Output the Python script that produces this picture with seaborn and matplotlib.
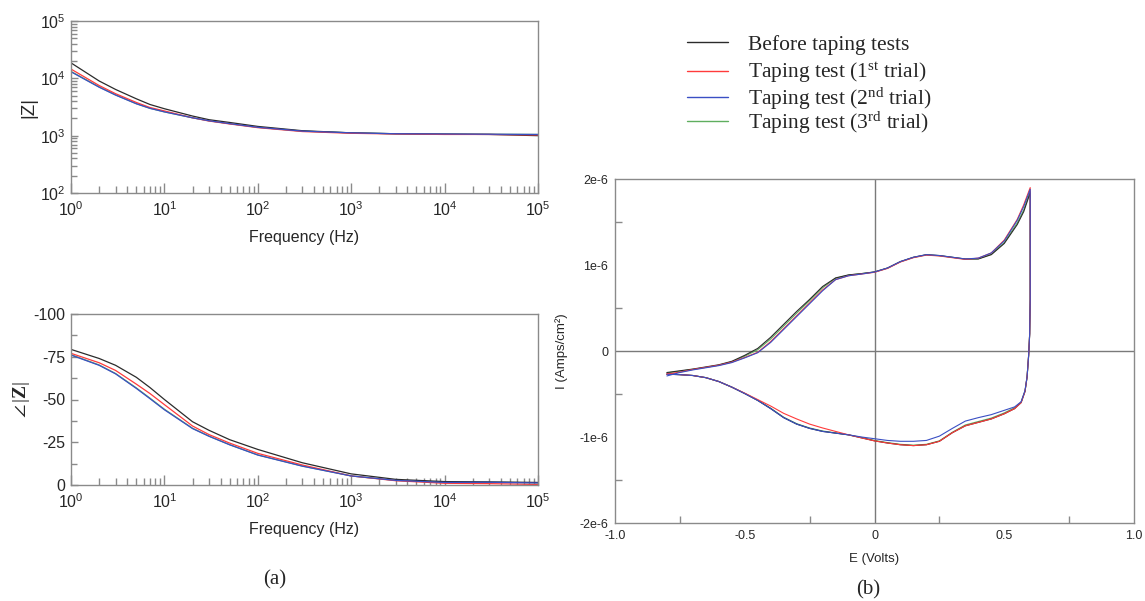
import numpy as np
import pandas as pd
import seaborn as sns
import matplotlib
matplotlib.use("Agg")
import matplotlib.pyplot as plt
from matplotlib.lines import Line2D
from matplotlib.ticker import FixedLocator, NullFormatter, LogLocator

# ---------------- data ----------------
series = ["Before taping tests", "Taping test (1st trial)", "Taping test (2nd trial)", "Taping test (3rd trial)"]
legend_labels = ["Before taping tests",
                 "Taping test (1$^{\\mathrm{st}}$ trial)",
                 "Taping test (2$^{\\mathrm{nd}}$ trial)",
                 "Taping test (3$^{\\mathrm{rd}}$ trial)"]

freq = [1, 2, 3, 5, 7, 10, 20, 30, 50, 100, 300, 1000, 3000, 1e4, 3e4, 1e5]

z_before = [1.86e4, 9.0e3, 6.4e3, 4.4e3, 3.5e3, 2.95e3, 2.2e3, 1.9e3, 1.7e3, 1.45e3, 1.22e3, 1.12e3, 1.08e3, 1.06e3, 1.05e3, 1.00e3]
z_t1 = [1.45e4, 7.5e3, 5.4e3, 3.8e3, 3.1e3, 2.7e3, 2.05e3, 1.8e3, 1.6e3, 1.38e3, 1.18e3, 1.10e3, 1.07e3, 1.05e3, 1.05e3, 1.03e3]
z_t2 = [1.30e4, 7.0e3, 5.1e3, 3.6e3, 3.0e3, 2.6e3, 2.05e3, 1.82e3, 1.62e3, 1.40e3, 1.20e3, 1.12e3, 1.08e3, 1.07e3, 1.06e3, 1.05e3]
z_t3 = [1.32e4, 7.1e3, 5.15e3, 3.62e3, 3.0e3, 2.6e3, 2.05e3, 1.82e3, 1.62e3, 1.40e3, 1.20e3, 1.12e3, 1.08e3, 1.07e3, 1.06e3, 1.05e3]

ph_before = [-79.3, -74, -70, -63, -57, -50, -37, -32, -26.5, -20.8, -13, -6.5, -3.3, -2.0, -1.8, -1.5]
ph_t1 = [-77, -71.5, -67, -59, -53.5, -47, -34.5, -29.5, -24.5, -18.5, -11.7, -5.3, -2.5, -1.0, -0.8, -0.3]
ph_t2 = [-76, -70, -65, -56.5, -50.5, -44, -33, -28.5, -23.5, -17.5, -11, -5.3, -2.7, -1.5, -1.6, -1.2]
ph_t3 = [-76.2, -70.2, -65.2, -56.8, -50.8, -44.3, -33.2, -28.6, -23.6, -17.6, -11.1, -5.3, -2.7, -1.6, -1.6, -1.3]

e_up = [-0.8, -0.75, -0.7, -0.65, -0.6, -0.55, -0.5, -0.45, -0.4, -0.35, -0.3, -0.25, -0.2, -0.15, -0.1,
        -0.05, 0, 0.05, 0.1, 0.15, 0.2, 0.25, 0.3, 0.35, 0.4, 0.45, 0.5, 0.55, 0.575, 0.6]
e_down = [0.6, 0.598, 0.594, 0.588, 0.58, 0.565, 0.54, 0.5, 0.45, 0.4, 0.35, 0.3, 0.25, 0.2, 0.15, 0.1, 0.05, 0,
          -0.05, -0.1, -0.15, -0.2, -0.25, -0.3, -0.35, -0.4, -0.45, -0.5, -0.55, -0.6, -0.65, -0.7, -0.75, -0.8]

# current in 1e-6 A/cm2
i_up_before = [-0.25, -0.23, -0.21, -0.185, -0.16, -0.12, -0.05, 0.03, 0.16, 0.31, 0.46, 0.6, 0.75, 0.85, 0.885,
               0.9, 0.92, 0.965, 1.04, 1.09, 1.12, 1.11, 1.09, 1.07, 1.07, 1.12, 1.25, 1.47, 1.62, 1.84]
i_up_t1 = [-0.27, -0.245, -0.215, -0.19, -0.165, -0.13, -0.075, -0.015, 0.11, 0.26, 0.41, 0.56, 0.71, 0.83, 0.875,
           0.895, 0.915, 0.96, 1.035, 1.085, 1.115, 1.105, 1.085, 1.065, 1.08, 1.14, 1.29, 1.53, 1.70, 1.90]
i_up_t2 = [-0.29, -0.25, -0.22, -0.195, -0.17, -0.135, -0.08, -0.02, 0.10, 0.25, 0.40, 0.55, 0.70, 0.83, 0.875,
           0.895, 0.918, 0.965, 1.04, 1.09, 1.12, 1.11, 1.09, 1.07, 1.08, 1.14, 1.28, 1.52, 1.68, 1.88]
i_up_t3 = [-0.255, -0.235, -0.213, -0.19, -0.165, -0.125, -0.06, 0.015, 0.14, 0.29, 0.44, 0.585, 0.735, 0.845, 0.883,
           0.9, 0.918, 0.963, 1.038, 1.088, 1.118, 1.108, 1.088, 1.068, 1.072, 1.125, 1.26, 1.49, 1.64, 1.86]

i_down_before = [0.6, 0.2, -0.05, -0.3, -0.47, -0.6, -0.67, -0.73, -0.79, -0.83, -0.87, -0.95, -1.05, -1.09, -1.10,
                 -1.09, -1.07, -1.045, -1.01, -0.975, -0.955, -0.935, -0.9, -0.85, -0.775, -0.67, -0.575, -0.495,
                 -0.42, -0.355, -0.31, -0.285, -0.275, -0.27]
i_down_t1 = [0.6, 0.2, -0.05, -0.3, -0.47, -0.6, -0.67, -0.73, -0.79, -0.83, -0.87, -0.95, -1.05, -1.09, -1.10,
             -1.09, -1.07, -1.045, -1.01, -0.975, -0.935, -0.895, -0.85, -0.79, -0.725, -0.64, -0.565, -0.49,
             -0.42, -0.355, -0.31, -0.285, -0.275, -0.265]
i_down_t2 = [0.6, 0.2, -0.05, -0.3, -0.46, -0.59, -0.65, -0.69, -0.74, -0.775, -0.815, -0.9, -0.99, -1.04, -1.05,
             -1.05, -1.04, -1.02, -1.0, -0.975, -0.955, -0.935, -0.9, -0.85, -0.775, -0.67, -0.575, -0.495,
             -0.42, -0.355, -0.31, -0.285, -0.275, -0.27]
i_down_t3 = [0.6, 0.2, -0.05, -0.3, -0.465, -0.595, -0.66, -0.72, -0.78, -0.82, -0.86, -0.945, -1.045, -1.085, -1.095,
             -1.085, -1.065, -1.04, -1.005, -0.975, -0.952, -0.93, -0.895, -0.845, -0.77, -0.665, -0.572, -0.493,
             -0.42, -0.355, -0.31, -0.285, -0.275, -0.27]

x_ticks_cv = [-1.0, -0.5, 0, 0.5, 1.0]
x_ticklabels_cv = ["-1.0", "-0.5", "0", "0.5", "1.0"]
y_ticks_cv = [-2e-6, -1e-6, 0, 1e-6, 2e-6]
y_ticklabels_cv = ["-2e-6", "-1e-6", "0", "1e-6", "2e-6"]
phase_ticks = [-100, -75, -50, -25, 0]

colors = ["#2b2b2b", "#ff3b3b", "#3a4fc4", "#5fae5f"]
palette = dict(zip(series, colors))
draw_order = [series[3], series[0], series[1], series[2]]

# ---------------- tables ----------------
eis = pd.concat([
    pd.DataFrame({"f": freq, "Z": z, "phase": p, "s": name})
    for name, z, p in zip(series, [z_before, z_t1, z_t2, z_t3], [ph_before, ph_t1, ph_t2, ph_t3])
], ignore_index=True)

cv_rows = []
for name, iu, idn in zip(series, [i_up_before, i_up_t1, i_up_t2, i_up_t3],
                         [i_down_before, i_down_t1, i_down_t2, i_down_t3]):
    e = list(e_up) + list(e_down)
    i = [v * 1e-6 for v in list(iu) + list(idn)]
    cv_rows.append(pd.DataFrame({"E": e, "I": i, "s": name}))
cv = pd.concat(cv_rows, ignore_index=True)

# ---------------- style ----------------
sns.set_theme(style="white")
plt.rcParams["font.family"] = ["Liberation Sans", "DejaVu Sans"]
plt.rcParams["axes.unicode_minus"] = False
plt.rcParams["mathtext.fontset"] = "custom"
plt.rcParams["mathtext.rm"] = "Liberation Serif"
plt.rcParams["mathtext.it"] = "Liberation Serif:italic"
plt.rcParams["mathtext.bf"] = "Liberation Serif:bold"
spine_c = "#8a8a8a"

W, H = 1145, 601
fig = plt.figure(figsize=(W / 100, H / 100), dpi=100)
ax1 = fig.add_axes([71 / W, 1 - 193 / H, 467 / W, 172 / H])
ax2 = fig.add_axes([71 / W, 1 - 485 / H, 467 / W, 171 / H])
ax3 = fig.add_axes([615 / W, 1 - 523 / H, 519 / W, 344 / H])


def style_axes(ax):
    for sp in ax.spines.values():
        sp.set_color(spine_c)
        sp.set_linewidth(1.0)
    ax.tick_params(which="both", direction="in", color=spine_c, top=False, right=False,
                   bottom=True, left=True)


for name in draw_order:
    d = eis[eis.s == name]
    sns.lineplot(data=d, x="f", y="Z", color=palette[name], lw=0.9, ax=ax1, legend=False, sort=False, estimator=None)
    sns.lineplot(data=d, x="f", y="phase", color=palette[name], lw=0.9, ax=ax2, legend=False, sort=False, estimator=None)
    c = cv[cv.s == name]
    sns.lineplot(data=c, x="E", y="I", color=palette[name], lw=0.8, ax=ax3, legend=False, sort=False, estimator=None)

for ax in (ax1, ax2):
    style_axes(ax)
    ax.set_xscale("log")
    ax.set_xlim(1, 1e5)
    ax.xaxis.set_major_locator(LogLocator(base=10, numticks=10))
    ax.xaxis.set_minor_locator(LogLocator(base=10, subs=np.arange(2, 10), numticks=20))
    ax.xaxis.set_minor_formatter(NullFormatter())
    ax.tick_params(axis="x", which="major", length=7, width=1, labelsize=11.5, pad=5)
    ax.tick_params(axis="x", which="minor", length=5, width=1)
    ax.tick_params(axis="y", which="major", length=5, width=1, labelsize=11.5, pad=4)
    ax.tick_params(axis="y", which="minor", length=4, width=1)
    ax.set_xlabel("Frequency (Hz)", fontsize=11.5, labelpad=8)

ax1.set_yscale("log")
ax1.set_ylim(1e2, 1e5)
ax1.yaxis.set_minor_locator(LogLocator(base=10, subs=np.arange(2, 10), numticks=20))
ax1.yaxis.set_minor_formatter(NullFormatter())
ax1.set_ylabel("|Z|", fontsize=13.5, labelpad=2)

ax2.set_ylim(0, -100)
ax2.set_yticks(phase_ticks)
ax2.set_yticklabels([str(t) for t in phase_ticks])
ax2.yaxis.set_minor_locator(FixedLocator([-87.5, -62.5, -37.5, -12.5]))
ax2.set_ylabel(r"$\angle\,|\mathbf{Z}|$", fontsize=14, labelpad=1)

# right: CV
style_axes(ax3)
ax3.axhline(0, color="#7a7a7a", lw=1.0, zorder=0)
ax3.axvline(0, color="#7a7a7a", lw=1.0, zorder=0)
ax3.set_xlim(-1.0, 1.0)
ax3.set_ylim(-2e-6, 2e-6)
ax3.set_xticks(x_ticks_cv)
ax3.set_xticklabels(x_ticklabels_cv)
ax3.set_yticks(y_ticks_cv)
ax3.set_yticklabels(y_ticklabels_cv)
ax3.xaxis.set_minor_locator(FixedLocator([-0.75, -0.25, 0.25, 0.75]))
ax3.yaxis.set_minor_locator(FixedLocator([-1.5e-6, -0.5e-6, 0.5e-6, 1.5e-6]))
ax3.tick_params(which="major", length=0, labelsize=9, pad=5)
ax3.tick_params(which="minor", length=5)
ax3.set_xlabel("E (Volts)", fontsize=9.5, labelpad=8)
ax3.set_ylabel("I (Amps/cm²)", fontsize=9.5, labelpad=8)

# legend: one entry per row, placed at the reference row positions
row_y = [45, 73, 99, 123]
for c, lab, y in zip(colors, legend_labels, row_y):
    fig.legend([Line2D([0], [0], color=c, lw=1.0)], [lab], loc="center left",
               bbox_to_anchor=(687 / W, 1 - y / H), frameon=False,
               prop={"family": "Liberation Serif", "size": 15.5},
               handlelength=1.9, handletextpad=0.95, borderaxespad=0, borderpad=0)

# panel labels
fig.text(275 / W, 1 - 580 / H, "(a)", family="Liberation Serif", fontsize=15, ha="center", va="center")
fig.text(868 / W, 1 - 590 / H, "(b)", family="Liberation Serif", fontsize=15, ha="center", va="center")

fig.savefig("out.png", dpi=100)
